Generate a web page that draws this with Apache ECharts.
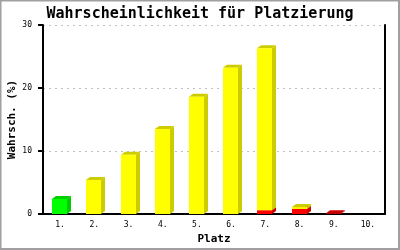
<!DOCTYPE html>
<html><head><meta charset="utf-8">
<script src="https://cdn.jsdelivr.net/npm/echarts@6/dist/echarts.min.js"></script>
<style>html,body{margin:0;padding:0;background:#fff}#c{width:400px;height:250px}</style>
</head><body><div id="c"></div>
<script>
var categories = ['1.', '2.', '3.', '4.', '5.', '6.', '7.', '8.', '9.', '10.'];
var redValues = [0, 0, 0, 0, 0, 0, 0.6, 0.8, 0.1, 0];
var yellowValues = [0, 5.4, 9.4, 13.5, 18.6, 23.2, 25.7, 0.3, 0, 0];
var greenValues = [2.4, 0, 0, 0, 0, 0, 0, 0, 0, 0];
var yTicks = [0, 10, 20, 30];

var stackOrder = [
  {values: redValues, front: '#ff0000', side: '#cc0000'},
  {values: yellowValues, front: '#ffff00', side: '#cccc00'},
  {values: greenValues, front: '#00ff00', side: '#00cc00'}
];

function makeData(k) {
  var out = [];
  for (var i = 0; i < categories.length; i++) {
    var base = 0;
    for (var j = 0; j < k; j++) base += stackOrder[j].values[i];
    out.push([i, base, base + stackOrder[k].values[i]]);
  }
  return out;
}

function renderer(k) {
  return function (params, api) {
    var idx = api.value(0), start = api.value(1), end = api.value(2);
    if (end - start <= 0) return null;
    var band = api.size([1, 0])[0];
    var cx = api.coord([idx, 0])[0];
    var w = Math.round(band * 0.44);
    var left = Math.round(cx - w / 2 - 0.5);
    var yTop = api.coord([idx, end])[1];
    var yBot = api.coord([idx, start])[1];
    var dx = 4, dy = 3;
    var c = stackOrder[k];
    return {
      type: 'group',
      children: [
        {type: 'polygon', shape: {points: [[left + w, yTop], [left + w + dx, yTop - dy], [left + w + dx, yBot - dy], [left + w, yBot]]}, style: {fill: c.side}},
        {type: 'polygon', shape: {points: [[left, yTop], [left + dx, yTop - dy], [left + w + dx, yTop - dy], [left + w, yTop]]}, style: {fill: c.side}},
        {type: 'rect', shape: {x: left, y: yTop, width: w, height: yBot - yTop}, style: {fill: c.front}}
      ]
    };
  };
}

var series = [];
for (var k = 0; k < stackOrder.length; k++) {
  series.push({
    type: 'custom',
    renderItem: renderer(k),
    encode: {x: 0, y: [1, 2]},
    data: makeData(k),
    animation: false
  });
}

var mono = 'DejaVu Sans Mono';
var chart = echarts.init(document.getElementById('c'), null, {renderer: 'canvas'});
chart.setOption({
  animation: false,
  title: {
    text: 'Wahrscheinlichkeit für Platzierung',
    left: 'center', top: 2,
    textStyle: {fontFamily: mono, fontWeight: 'bold', fontSize: 15, color: '#000'}
  },
  grid: {left: 43, right: 15, top: 25, bottom: 36, containLabel: false, outerBoundsMode: 'none'},
  xAxis: {
    type: 'category',
    data: categories,
    name: 'Platz',
    nameLocation: 'middle',
    nameGap: 20,
    nameMoveOverlap: false,
    nameTextStyle: {fontFamily: mono, fontWeight: 'bold', fontSize: 11, color: '#000'},
    axisLine: {lineStyle: {color: '#000', width: 2}},
    axisTick: {show: false},
    axisLabel: {fontFamily: mono, fontSize: 8, color: '#000', margin: 7},
    splitLine: {show: false}
  },
  yAxis: [{
    type: 'value',
    min: 0, max: 30, interval: 10,
    name: 'Wahrsch. (%)',
    nameLocation: 'middle',
    nameGap: 25,
    nameRotate: 90,
    nameMoveOverlap: false,
    nameTextStyle: {fontFamily: mono, fontWeight: 'bold', fontSize: 11, color: '#000'},
    axisLine: {show: true, lineStyle: {color: '#000', width: 2}},
    axisTick: {show: true, length: 5, lineStyle: {color: '#000', width: 2}},
    axisLabel: {fontFamily: mono, fontSize: 8, color: '#000', margin: 11,
      formatter: function (v) { return yTicks.indexOf(v) >= 0 ? String(v) : ''; }},
    splitLine: {show: true, lineStyle: {color: '#c0c0c0', type: [2, 4], width: 1}}
  }, {
    type: 'value',
    min: 0, max: 30, interval: 10,
    position: 'right',
    axisLine: {show: true, lineStyle: {color: '#000', width: 2}},
    axisTick: {show: false},
    axisLabel: {show: false},
    splitLine: {show: false}
  }],
  graphic: [{
    type: 'rect',
    shape: {x: 0.5, y: 0.5, width: 398.5, height: 248.5},
    style: {fill: 'none', stroke: '#a0a0a0', lineWidth: 2},
    silent: true
  }],
  series: series
});
</script></body></html>
